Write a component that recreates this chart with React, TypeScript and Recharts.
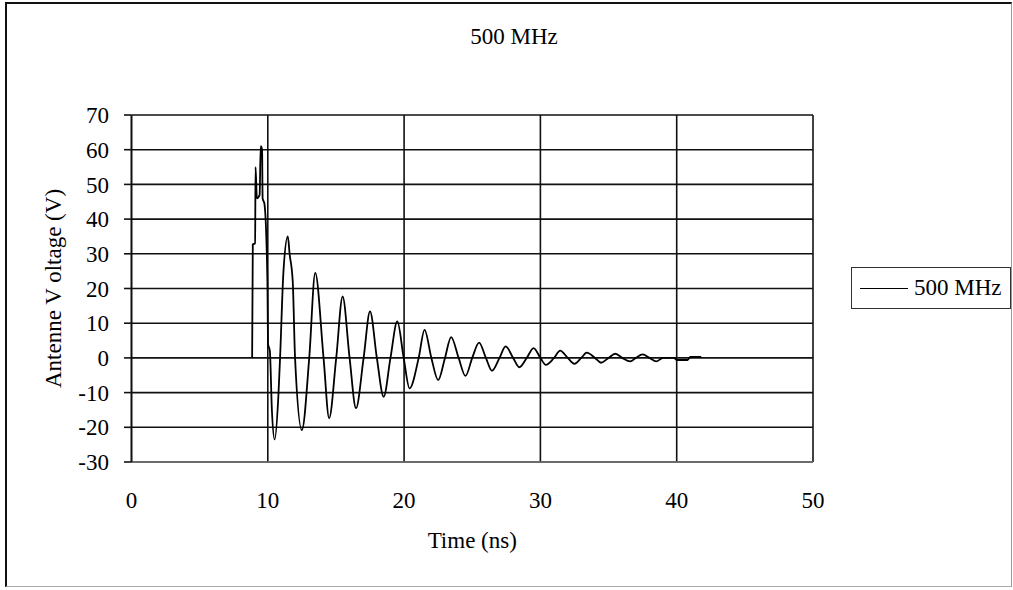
import React from 'react';
import { LineChart, Line, XAxis, YAxis, CartesianGrid } from 'recharts';

// time (ns) and antenna voltage (V)
const times = [
  8.85, 8.9, 9.07, 9.1, 9.2, 9.4, 9.48, 9.58, 9.62, 9.75, 9.97, 10.02, 10.15, 10.3, 10.5,
  10.78, 10.9, 11.15, 11.47, 11.6, 11.83, 12.0, 12.5, 13.04, 13.48, 14.09, 14.5, 15.02, 15.49,
  16.0, 16.47, 17.03, 17.5, 18.0, 18.5, 19.0, 19.5, 19.97, 20.4, 21.07, 21.5, 22.0, 22.5, 23.0,
  23.45, 24.0, 24.5, 25.0, 25.5, 26.0, 26.45, 27.0, 27.45, 28.0, 28.45, 29.0, 29.5, 30.0, 30.4,
  31.0, 31.45, 32.0, 32.5, 33.0, 33.4, 34.0, 34.45, 35.0, 35.5, 36.0, 36.6, 37.0, 37.5, 38.0,
  38.5, 39.0, 39.8, 40.0, 40.8, 41.0, 41.8,
];
const volts = [
  0, 32.7, 33, 55, 46, 47, 61, 60, 46, 44.5, 22.5, 4, 2, -15, -23.5,
  -10.6, 0, 25, 35, 30, 22, 0, -20.8, 0, 24.5, 0, -17.4, 0, 17.7,
  0, -14.5, 0, 13.4, 0, -11.2, 0, 10.5, 0, -8.8, 0, 8.1, 0, -6.4, 0,
  6, 0, -5.2, 0, 4.4, 0, -3.7, 0, 3.3, 0, -2.7, 0, 2.8, 0, -2,
  0, 2.1, 0, -1.7, 0, 1.5, 0, -1.4, 0, 1.2, 0, -1, 0, 1, 0,
  -1, 0, 0, -0.6, -0.6, 0.3, 0.3,
];
const xTicks = [0, 10, 20, 30, 40, 50];
const yTicks = [-30, -20, -10, 0, 10, 20, 30, 40, 50, 60, 70];
const seriesName = '500 MHz';

const data = times.map((t, i) => ({ t, v: volts[i] }));

const font = '"Liberation Serif", "Times New Roman", serif';
const fs = 23;

export default function App() {
  return (
    <div style={{ position: 'absolute', left: 0, top: 0, width: 1013, height: 590, background: '#fff' }}>
      <div
        style={{
          position: 'absolute',
          left: 5,
          top: 2,
          width: 1004,
          height: 582,
          borderLeft: '2px solid #111',
          borderTop: '2px solid #111',
          borderRight: '1px solid #999',
          borderBottom: '1px solid #aaa',
        }}
      />
      <div
        style={{
          position: 'absolute',
          left: 0,
          width: 1028,
          top: 24,
          textAlign: 'center',
          fontFamily: font,
          fontSize: fs,
          color: '#000',
        }}
      >
        {seriesName}
      </div>
      <div style={{ position: 'absolute', left: 0, top: 0 }}>
        <LineChart
          width={1013}
          height={590}
          data={data}
          margin={{ top: 115, right: 200, bottom: 88, left: 31.5 }}
        >
          <CartesianGrid stroke="#111" strokeWidth={1.6} />
          <XAxis
            dataKey="t"
            type="number"
            domain={[0, 50]}
            ticks={xTicks}
            interval={0}
            height={40}
            tickLine={false}
            tickSize={0}
            tickMargin={30}
            axisLine={{ stroke: '#777', strokeWidth: 1.6 }}
            tick={{ fill: '#000', fontFamily: font, fontSize: fs }}
            label={{
              value: 'Time (ns)',
              position: 'center',
              dy: 58,
              fill: '#000',
              fontFamily: font,
              fontSize: fs,
            }}
          />
          <YAxis
            type="number"
            domain={[-30, 70]}
            ticks={yTicks}
            interval={0}
            width={100}
            tickSize={7.5}
            tickMargin={15}
            allowDataOverflow
            axisLine={{ stroke: '#111', strokeWidth: 1.6 }}
            tickLine={{ stroke: '#111', strokeWidth: 1.6 }}
            tick={{ fill: '#000', fontFamily: font, fontSize: fs }}
            label={{
              value: 'Antenne V oltage (V)',
              angle: -90,
              position: 'center',
              dx: -28.5,
              fill: '#000',
              fontFamily: font,
              fontSize: fs,
            }}
          />
          <Line
            type="monotone"
            dataKey="v"
            name={seriesName}
            stroke="#000"
            strokeWidth={1.8}
            dot={false}
            isAnimationActive={false}
          />
        </LineChart>
      </div>
      <div
        style={{
          position: 'absolute',
          left: 851,
          top: 267,
          width: 160,
          height: 42,
          border: '1.5px solid #333',
          background: '#fff',
          display: 'flex',
          alignItems: 'center',
          fontFamily: font,
          fontSize: fs,
          color: '#000',
          boxSizing: 'border-box',
          whiteSpace: 'nowrap',
        }}
      >
        <div style={{ width: 48, height: 0, borderTop: '1.5px solid #000', marginLeft: 8, marginRight: 6 }} />
        <span>{seriesName}</span>
      </div>
    </div>
  );
}
